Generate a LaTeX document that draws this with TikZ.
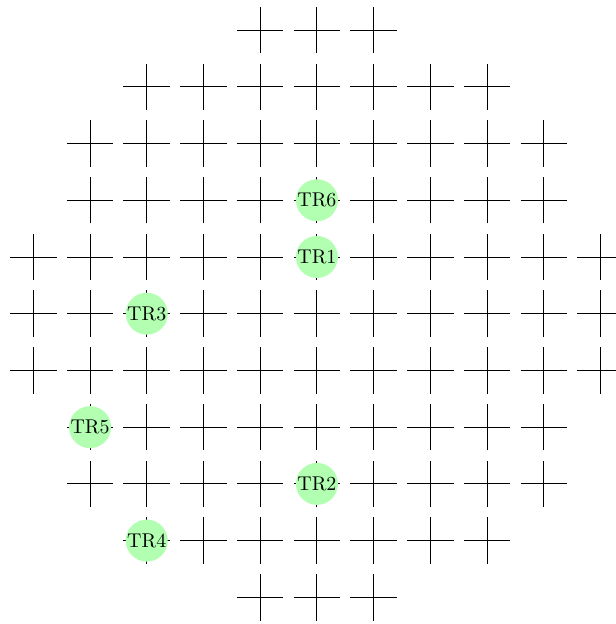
\documentclass[tikz,border=0pt]{standalone}
\usepackage{tikz}
\usetikzlibrary{positioning}
\usepackage{xcolor}

\tikzset{
    kreuz/.style={line width=0.45pt, black},
    trafo/.style={circle, fill=green!30, minimum size=0.74cm, inner sep=0pt, font=\normalsize}
}

\begin{document}
\begin{tikzpicture}
    \useasboundingbox (-0.587,-0.47) rectangle (10.27,10.53);

    % Gitter (Zeile/erste Spalte/letzte Spalte)
    \foreach \r/\a/\b in {0/4/6, 1/2/8, 2/1/9, 3/1/9, 4/0/10, 5/0/10, 6/0/10, 7/1/9, 8/1/9, 9/2/8, 10/4/6} {
        \foreach \c in {\a,...,\b} {
            \draw[kreuz] (\c-0.41,10-\r) -- (\c+0.41,10-\r);
            \draw[kreuz] (\c,10-\r-0.41) -- (\c,10-\r+0.41);
        }
    }

    % Trafos
    \node[trafo] (tr6) at (5,7) {TR6};
    \node[trafo] (tr1) at (5,6) {TR1};
    \node[trafo] (tr3) at (2,5) {TR3};
    \node[trafo] (tr5) at (1,3) {TR5};
    \node[trafo] (tr2) at (5,2) {TR2};
    \node[trafo] (tr4) at (2,1) {TR4};
\end{tikzpicture}
\end{document}
